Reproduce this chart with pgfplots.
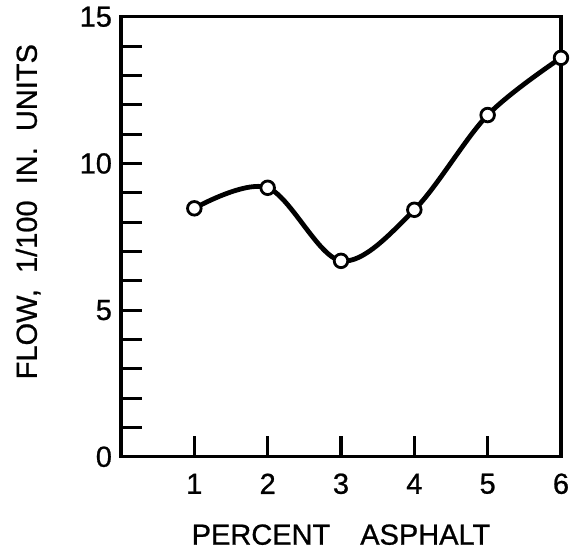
\documentclass[border=0pt]{standalone}
\usepackage{pgfplots}
\pgfplotsset{compat=1.18}
\usepackage{fontspec}
\setmainfont{Liberation Sans}[FakeBold=0.8]
\begin{document}
\begin{tikzpicture}
\begin{axis}[
  scale only axis,
  width=220pt, height=220pt,
  xmin=0, xmax=6, ymin=0, ymax=15,
  axis line style={line width=1.7pt},
  xtick={1,2,3,4,5,6},
  ytick={0,5,10,15},
  minor ytick={1,2,3,4,6,7,8,9,11,12,13,14},
  tick pos=left,
  tick align=inside,
  major tick length=10.5pt,
  minor tick length=10.5pt,
  every tick/.style={black, line width=1.6pt},
  /pgf/number format/assume math mode=true,
  tick label style={font=\fontsize{14.5}{16}\selectfont},
  xticklabel style={anchor=center, yshift=-13.5pt},
  yticklabel style={xshift=-1pt},
  xlabel={PERCENT\hspace{15pt}ASPHALT},
  ylabel={FLOW,\ \ 1/100\ \ IN.\ \ UNITS},
  label style={font=\fontsize{14.5}{16}\selectfont},
  xlabel style={at={(axis description cs:0.5,-0.177)}, anchor=center},
  ylabel style={at={(axis description cs:-0.211,0.557)}, anchor=center},
]
\addplot[black, line width=2.4pt, smooth, tension=0.55,
  mark=*, mark size=3.4pt,
  mark options={fill=white, draw=black, line width=1.4pt}]
  coordinates {(1,8.47) (2,9.17) (3,6.68) (4,8.42) (5,11.65) (6,13.6)};
\end{axis}
\path[use as bounding box] (current axis.south west)
  ++(-60.5pt,-49pt) rectangle ++(290.5pt,277pt);
\end{tikzpicture}
\end{document}
